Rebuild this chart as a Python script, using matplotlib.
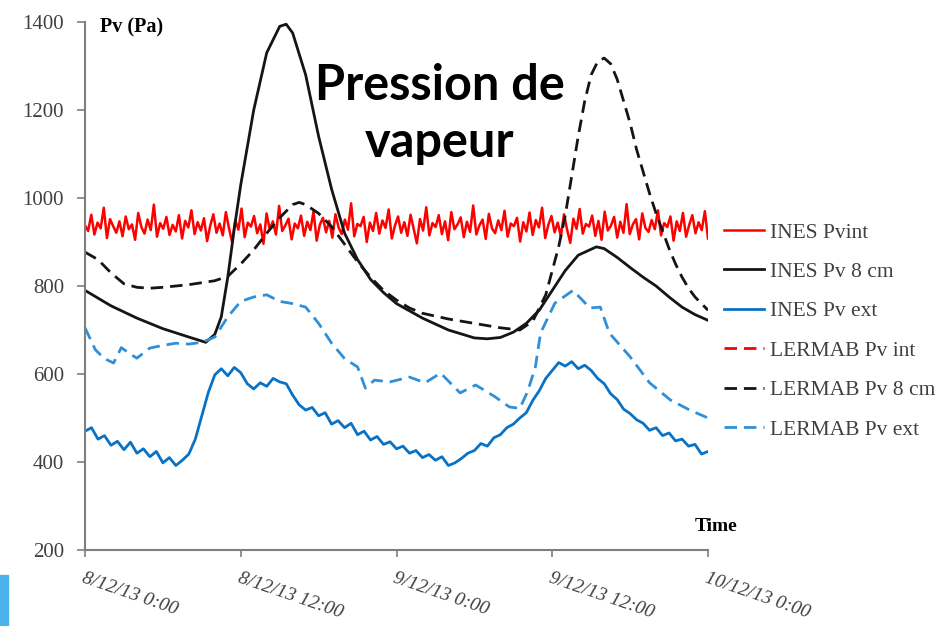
import matplotlib
matplotlib.use("Agg")
import matplotlib.pyplot as plt
from matplotlib.patches import Rectangle
import numpy as np

plt.rcParams['font.family'] = ['Liberation Serif', 'DejaVu Serif']

# time axis in hours from 8/12/13 0:00
tick_hours = [0, 12, 24, 36, 48]
tick_labels = ["8/12/13 0:00", "8/12/13 12:00", "9/12/13 0:00", "9/12/13 12:00", "10/12/13 0:00"]

# INES Pvint (noisy signal, read by eye)
ines_int = [938, 925, 962, 917, 944, 931, 978, 909, 952, 936, 921, 947, 913, 958, 929, 940, 905, 966, 934, 919,
            951, 927, 985, 912, 943, 930, 957, 916, 939, 924, 961, 908, 948, 933, 972, 918, 945, 926, 954, 902,
            937, 963, 921, 942, 915, 968, 931, 899, 950, 928, 976, 911, 944, 935, 959, 920, 940, 896, 965, 929,
            947, 917, 982, 925, 938, 953, 906, 942, 931, 960, 914, 946, 927, 970, 903, 939, 955, 922, 948, 910,
            963, 933, 918, 951, 928, 988, 913, 941, 936, 957, 900, 944, 925, 966, 919, 949, 932, 974, 908, 937,
            958, 921, 945, 914, 962, 930, 897, 952, 926, 979, 915, 943, 934, 961, 918, 947, 904, 968, 929, 940,
            956, 911, 946, 923, 983, 917, 938, 951, 907, 964, 931, 920, 949, 927, 971, 912, 942, 936, 955, 901,
            945, 924, 967, 916, 950, 933, 978, 909, 939, 959, 922, 944, 913, 963, 928, 898, 953, 930, 975, 919,
            941, 935, 960, 914, 948, 905, 969, 926, 937, 957, 910, 946, 921, 986, 918, 940, 952, 906, 965, 932,
            923, 950, 929, 972, 915, 943, 934, 958, 903, 947, 925, 966, 912, 939, 961, 920, 945, 927, 970, 908]

# INES Pv 8 cm
ines_8_h = [0, 2, 4, 6, 8, 9.3, 10, 10.5, 11, 11.5, 12, 13, 14, 15, 15.5, 16, 17, 18, 19, 20, 21, 22, 23, 24,
            26, 28, 30, 31, 32, 33, 34, 35, 36, 37, 38, 39.4, 40, 41, 42, 43, 44, 45, 46, 47, 48]
ines_8 = [790, 755, 727, 703, 684, 672, 690, 730, 820, 930, 1030, 1200, 1330, 1390, 1395, 1375, 1280, 1140, 1020,
          920, 860, 815, 785, 760, 727, 700, 682, 680, 683, 695, 715, 745, 790, 835, 870, 889, 885, 865, 842, 820,
          800, 775, 752, 735, 722]

# INES Pv ext (0.5 h steps)
ines_ext = [470, 478, 452, 460, 438, 447, 428, 445, 420, 430, 412, 424, 398, 410, 392, 404, 418, 452, 505, 558,
            598, 612, 596, 615, 603, 578, 566, 580, 572, 590, 582, 578, 552, 530, 518, 524, 505, 512, 486, 494,
            478, 488, 462, 470, 450, 458, 440, 446, 430, 436, 420, 426, 410, 417, 404, 412, 392, 398, 408, 420,
            426, 442, 436, 455, 462, 478, 486, 500, 512, 540, 562, 590, 608, 626, 618, 628, 612, 620, 608, 590,
            578, 555, 542, 520, 510, 496, 488, 472, 478, 460, 466, 448, 452, 436, 440, 418, 424]

# LERMAB Pv 8 cm
lerm_8_h = [0, 1, 2, 3, 4, 5, 6, 8, 10, 11, 12, 13, 14, 15, 16, 16.5, 17, 18, 19, 20, 21, 22, 23, 24, 25, 26,
            28, 30, 32, 33.5, 34.5, 35.5, 36.5, 37, 37.5, 38, 38.5, 39, 39.5, 40, 40.5, 41, 41.5, 42, 42.5, 43,
            43.5, 44, 44.5, 45, 45.5, 46, 46.5, 47, 48]
lerm_8 = [877, 860, 830, 805, 797, 795, 797, 803, 812, 822, 850, 882, 920, 955, 985, 990, 985, 965, 935, 895,
          855, 820, 790, 768, 750, 738, 725, 715, 705, 700, 720, 780, 890, 960, 1050, 1140, 1220, 1280, 1310,
          1318, 1305, 1270, 1220, 1170, 1110, 1060, 1010, 965, 925, 885, 850, 820, 795, 775, 745]

# LERMAB Pv ext
lerm_ext_h = [0, 0.8, 1.5, 2.2, 2.8, 3.5, 4, 5, 6, 7, 8, 9, 10, 11, 12, 13, 14, 15, 16, 17, 18, 19, 20, 21,
              21.6, 22.3, 23.5, 25, 26.2, 27.4, 28.9, 30.1, 31.6, 32.7, 33.5, 34.1, 34.7, 35.1, 36.2, 37.6,
              38.9, 39.7, 40.4, 42, 43.5, 45.1, 46.6, 48]
lerm_ext = [705, 655, 635, 625, 660, 645, 636, 659, 665, 670, 668, 672, 684, 730, 765, 775, 780, 765, 760, 752,
            715, 670, 635, 616, 568, 586, 582, 593, 580, 602, 557, 575, 548, 525, 522, 560, 616, 693, 761, 790,
            750, 752, 693, 639, 580, 541, 518, 500]

fig = plt.figure(figsize=(9.41, 6.26), dpi=100)
ax = fig.add_axes([85 / 941, 1 - 550 / 626, (708 - 85) / 941, (550 - 22) / 626])

red = '#ff0000'
black = '#151515'
blue = '#0a72c4'
lblue = '#2f8fd8'
dash = (0, (4.5, 2.5))

ax.plot(np.linspace(0, 48, len(ines_int)), ines_int, color=red, lw=1.8, label='INES Pvint')
ax.plot(ines_8_h, ines_8, color=black, lw=2, label='INES Pv 8 cm')
ax.plot(np.linspace(0, 48, len(ines_ext)), ines_ext, color=blue, lw=2, label='INES Pv ext')
ax.plot([], [], color=red, lw=2, ls=dash, label='LERMAB Pv int')
ax.plot(lerm_8_h, lerm_8, color=black, lw=2, ls=dash, label='LERMAB Pv 8 cm')
ax.plot(lerm_ext_h, lerm_ext, color=lblue, lw=2, ls=dash, label='LERMAB Pv ext')

ax.set_xlim(0, 48)
ax.set_ylim(200, 1400)
ax.set_yticks([200, 400, 600, 800, 1000, 1200, 1400])
ax.set_xticks(tick_hours)
ax.set_xticklabels(tick_labels, rotation=-19, ha='left', va='top', rotation_mode='anchor', style='italic')
ax.tick_params(axis='both', colors='#7f7f7f', labelcolor='#404040', labelsize=15, length=6, width=1.2)
ax.tick_params(axis='y', pad=9)
ax.tick_params(axis='x', pad=9, length=5, labelsize=14)
for s in ['top', 'right']:
    ax.spines[s].set_visible(False)
for s in ['left', 'bottom']:
    ax.spines[s].set_color('#7f7f7f')
    ax.spines[s].set_linewidth(1.5)

ax.text(0.024, 0.99, 'Pv (Pa)', transform=ax.transAxes, fontsize=14.5, fontweight='bold', va='center', ha='left')
ax.text(0.979, 0.045, 'Time', transform=ax.transAxes, fontsize=14, fontweight='bold', va='center', ha='left')

fig.text(440 / 941, 1 - 114 / 626, 'Pression de\nvapeur', family='Lato', fontsize=35, fontweight='bold',
         ha='center', va='center', linespacing=1.35)

leg = ax.legend(loc='upper left', bbox_to_anchor=(0.994, 0.657), frameon=False, fontsize=15.5,
                handlelength=1.86, labelspacing=0.9, handletextpad=0.28)
for t in leg.get_texts():
    t.set_color('#404040')

fig.patches.append(Rectangle((0, 0), 8 / 941, 51 / 626, transform=fig.transFigure, color='#4cb2ef', zorder=5))

fig.savefig('out.png', dpi=100)
